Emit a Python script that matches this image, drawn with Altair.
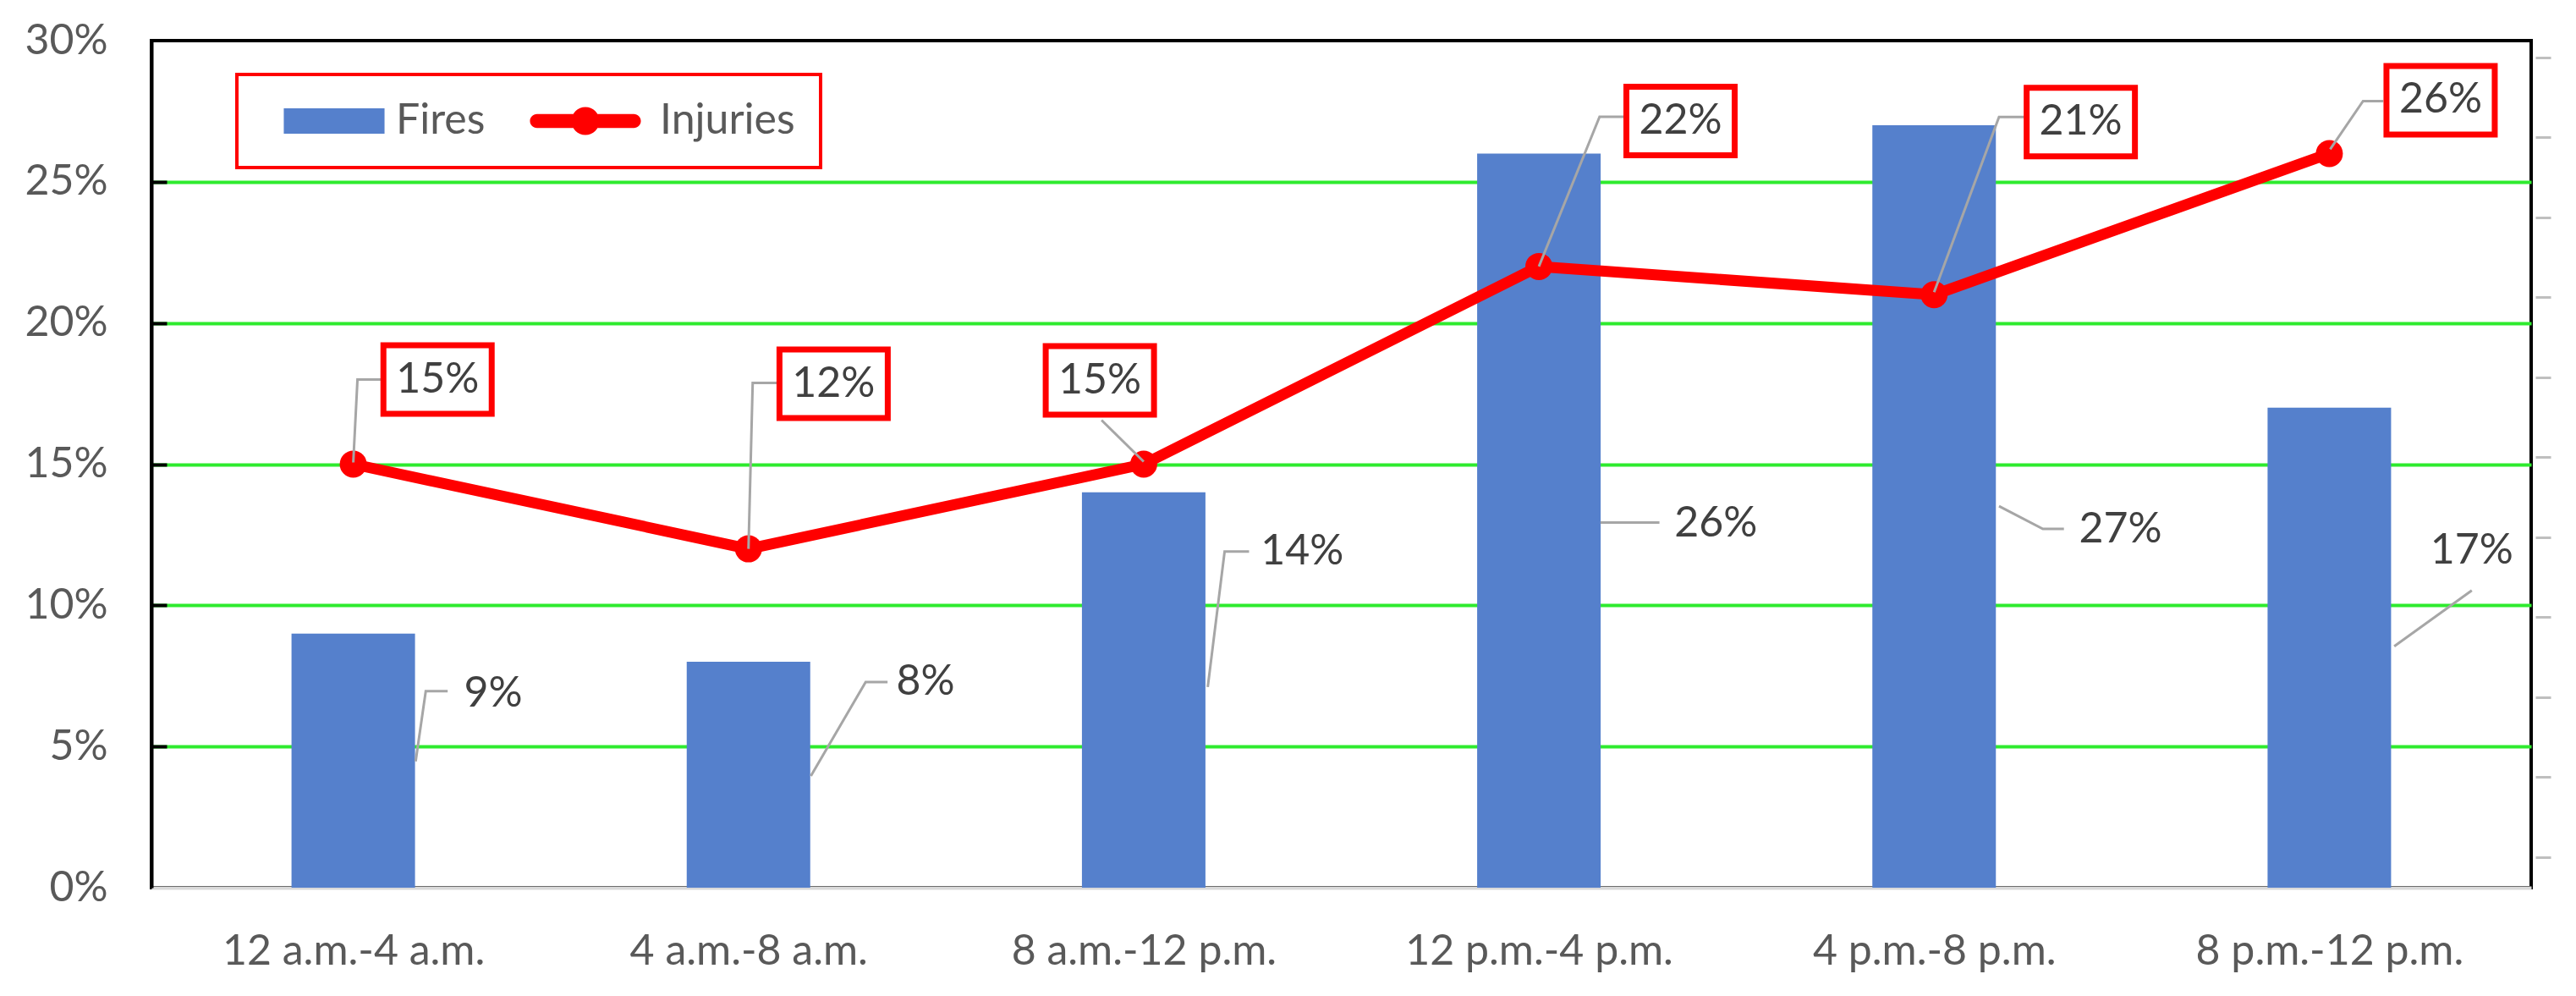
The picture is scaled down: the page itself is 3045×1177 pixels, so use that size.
import json
import pandas as pd
import altair as alt

# ---------------- data ----------------
categories = ["12 a.m.-4 a.m.", "4 a.m.-8 a.m.", "8 a.m.-12 p.m.",
              "12 p.m.-4 p.m.", "4 p.m.-8 p.m.", "8 p.m.-12 p.m."]
fires = [9, 8, 14, 26, 27, 17]
injuries = [15, 12, 15, 22, 21, 26]
y_ticks = [0, 5, 10, 15, 20, 25, 30]
series = ["Fires", "Injuries"]

# ---------------- label placement (pixel offsets from the data point; styling) ----------------
fires_label_dx = [166, 210, 188, 210, 221, 169]
fires_label_dy = [71, 24, 70, 438, 478, 169]
fires_leaders = [
    [(74, 151), (86, 68), (112, 68)],
    [(74, 135), (139, 24), (165, 24)],
    [(76, 230), (96, 70), (125, 70)],
    [(73, 436), (143, 436)],
    [(77, 450), (129, 477), (154, 477)],
    [(77, 282), (169, 216)],
]
inj_label_dx = [100, 101, -52, 168, 174, 132]
inj_label_dy = [-100, -195, -99, -172, -204, -63]
inj_leaders = [
    [(0, -2), (5, -100), (34, -100)],
    [(0, 0), (5, -196), (34, -196)],
    [(0, -3), (-50, -52)],
    [(0, 0), (72, -177), (101, -177)],
    [(0, -3), (77, -210), (107, -210)],
    [(1, -5), (40, -62), (64, -62)],
]

# ---------------- styles / layout ----------------
FONT = "Lato"
BAR = "#5580CC"
RED = "#FF0000"
GREEN = "#2EEB2E"
AXIS_TXT = "#595959"
LBL_TXT = "#404040"
LEADER = "#A6A6A6"
FS = 50
W, H = 2813, 1001
X_DOMAIN = [-0.5, 5.5]
Y_DOMAIN = [0, 30]
PX_X = W / (X_DOMAIN[1] - X_DOMAIN[0])   # pixels per category step
PX_Y = H / (Y_DOMAIN[1] - Y_DOMAIN[0])   # pixels per percentage point

base_df = pd.DataFrame({"idx": list(range(len(categories))), "cat": categories,
                        "fires": fires, "injuries": injuries})

fires_lab = pd.DataFrame({"idx": list(range(6)), "value": fires,
                          "dx": fires_label_dx, "dy": fires_label_dy})
inj_lab = pd.DataFrame({"idx": list(range(6)), "value": injuries,
                        "dx": inj_label_dx, "dy": inj_label_dy})


def leader_frame(values, leaders):
    rows = []
    for i, pts in enumerate(leaders):
        for k, (ox, oy) in enumerate(pts):
            rows.append({"id": i, "idx": i, "value": values[i], "dx": ox, "dy": oy, "k": k})
    return pd.DataFrame(rows)


fires_lead_df = leader_frame(fires, fires_leaders)
inj_lead_df = leader_frame(injuries, inj_leaders)

shift = dict(lx=f"datum.idx + datum.dx / {PX_X}", ly=f"datum.value - datum.dy / {PX_Y}",
             label="datum.value + '%'")

x_axis = alt.Axis(values=list(range(6)), labelExpr=json.dumps(categories) + "[datum.value]",
                  ticks=False, grid=False, domainColor="#D9D9D9", domainWidth=4,
                  labelFont=FONT, labelFontSize=FS, labelColor=AXIS_TXT, labelPadding=50,
                  labelFlush=False, labelOverlap=False, labelLimit=0, labelBaseline="top", title=None)
x_scale = alt.Scale(domain=X_DOMAIN, nice=False, zero=False)

y_axis = alt.Axis(values=y_ticks, labelExpr="datum.value + '%'", ticks=False,
                  domainColor="black", domainWidth=4,
                  gridColor=GREEN, gridWidth=4,
                  gridOpacity={"condition": {"test": "datum.value <= 0 || datum.value >= 30", "value": 0}, "value": 1},
                  labelFont=FONT, labelFontSize=FS, labelColor=AXIS_TXT, labelPadding=52, title=None)
y_scale = alt.Scale(domain=Y_DOMAIN, nice=False, zero=True)


def X(field="idx"):
    return alt.X(field + ":Q", scale=x_scale, axis=x_axis, title=None)


def Y(field):
    return alt.Y(field + ":Q", scale=y_scale, axis=y_axis, title=None)


bars = alt.Chart(base_df).mark_bar(size=146, color=BAR).encode(x=X(), y=Y("fires"))

fires_lead = alt.Chart(fires_lead_df).transform_calculate(**shift).mark_line(
    color=LEADER, strokeWidth=3).encode(x=X("lx"), y=Y("ly"), detail="id:N", order="k:Q")

fires_text = alt.Chart(fires_lab).transform_calculate(**shift).mark_text(
    font=FONT, fontSize=FS, color=LBL_TXT, align="center", baseline="middle").encode(
    x=X("lx"), y=Y("ly"), text="label:N")

line = alt.Chart(base_df).mark_line(color=RED, strokeWidth=13, strokeJoin="round").encode(
    x=X(), y=Y("injuries"))
points = alt.Chart(base_df).mark_point(filled=True, size=1024, color=RED, opacity=1).encode(
    x=X(), y=Y("injuries"))

inj_lead = alt.Chart(inj_lead_df).transform_calculate(**shift).mark_line(
    color=LEADER, strokeWidth=3).encode(x=X("lx"), y=Y("ly"), detail="id:N", order="k:Q")

box_path = "M-1,-0.633L1,-0.633L1,0.633L-1,0.633Z"
inj_box = alt.Chart(inj_lab).transform_calculate(**shift).mark_point(
    shape=box_path, size=16384, filled=False, fill="white", fillOpacity=1,
    stroke=RED, strokeWidth=7, opacity=1).encode(x=X("lx"), y=Y("ly"))

inj_text = alt.Chart(inj_lab).transform_calculate(**shift).mark_text(
    font=FONT, fontSize=FS, color=LBL_TXT, align="center", baseline="middle").encode(
    x=X("lx"), y=Y("ly"), text="label:N")

# legend
fires_sym = "M0.03,-1L7.97,-1L7.97,1L0.03,1Z"
inj_sym = ("M-0.82,-0.55L6.82,-0.55A0.55,0.55 0 0 1 6.82,0.55L-0.82,0.55"
           "A0.55,0.55 0 0 1 -0.82,-0.55Z M4.1,0A1.1,1.1 0 1 1 1.9,0A1.1,1.1 0 1 1 4.1,0Z")
leg = alt.Legend(orient="none", legendX=101, legendY=40, direction="horizontal", title=None,
                 strokeColor=RED, fillColor="white", padding=30,
                 symbolSize=900, symbolOpacity=1, symbolStrokeWidth=0,
                 labelFont=FONT, labelFontSize=FS, labelColor=AXIS_TXT,
                 labelOffset=108, columnPadding=48)
legend_df = pd.DataFrame({"series": series})
ghost_leg = alt.Chart(legend_df).mark_point(filled=True, opacity=0).encode(
    x=alt.value(0), y=alt.value(0),
    color=alt.Color("series:N", scale=alt.Scale(domain=series, range=[BAR, RED]), legend=leg),
    shape=alt.Shape("series:N", scale=alt.Scale(domain=series, range=[fires_sym, inj_sym]), legend=leg))

# secondary (unlabelled) right axis
right_df = pd.DataFrame({"g": [5]})
ghost_axis = alt.Chart(right_df).mark_point(opacity=0).encode(
    x=alt.value(0),
    y=alt.Y("g:Q", scale=alt.Scale(domain=[0.614, 11.21], nice=False, zero=False),
            axis=alt.Axis(orient="right", values=list(range(12)), labels=False, domain=False,
                          grid=False, ticks=True, tickColor="#BFBFBF", tickSize=18, tickWidth=3,
                          offset=5, title=None)))

# inward-pointing black ticks on the left edge of the plot
inner_df = pd.DataFrame({"h": [5]})
ghost_inner = alt.Chart(inner_df).mark_point(opacity=0).encode(
    x=alt.value(0),
    y=alt.Y("h:Q", scale=alt.Scale(domain=Y_DOMAIN, nice=False),
            axis=alt.Axis(orient="right", values=y_ticks[1:-1], labels=False, domain=False,
                          grid=False, ticks=True, tickColor="black", tickSize=18, tickWidth=4,
                          offset=-W, title=None)))

main = alt.layer(bars, fires_lead, fires_text, line, points, inj_lead, inj_box, inj_text, ghost_leg)

chart = alt.layer(main, ghost_axis, ghost_inner).resolve_scale(y="independent").properties(
    width=W, height=H,
    autosize=alt.AutoSizeParams(type="none"),
    padding={"left": 171, "top": 40, "right": 40, "bottom": 110},
).configure_view(stroke="black", strokeWidth=4).configure_legend(strokeWidth=4)

chart.save("out.html", embed_options={"renderer": "svg", "actions": False})
